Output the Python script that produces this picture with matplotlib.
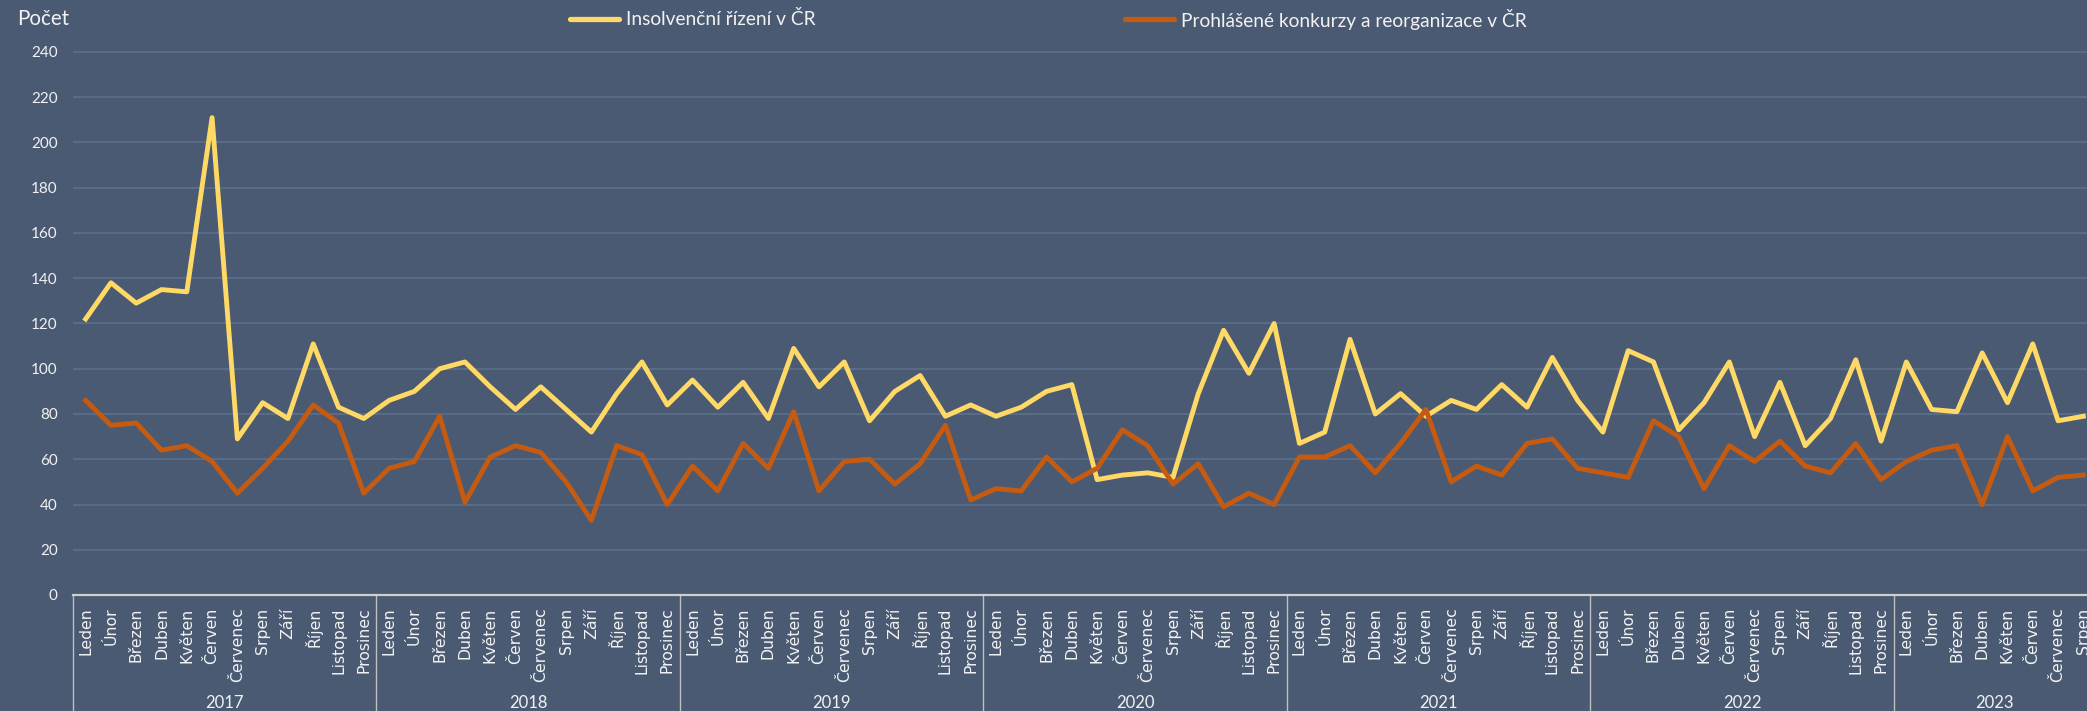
import matplotlib
matplotlib.use("Agg")
import matplotlib.pyplot as plt
from matplotlib.lines import Line2D

# data (monthly counts, Jan 2017 - Aug 2023)
months = ["Leden", "Únor", "Březen", "Duben", "Květen", "Červen", "Červenec",
          "Srpen", "Září", "Říjen", "Listopad", "Prosinec"]
years = ["2017", "2018", "2019", "2020", "2021", "2022", "2023"]
months_per_year = [12, 12, 12, 12, 12, 12, 8]

insolvence = [
    122, 138, 129, 135, 134, 211, 69, 85, 78, 111, 83, 78,   # 2017
    86, 90, 100, 103, 92, 82, 92, 82, 72, 89, 103, 84,       # 2018
    95, 83, 94, 78, 109, 92, 103, 77, 90, 97, 79, 84,        # 2019
    79, 83, 90, 93, 51, 53, 54, 52, 89, 117, 98, 120,        # 2020
    67, 72, 113, 80, 89, 79, 86, 82, 93, 83, 105, 86,        # 2021
    72, 108, 103, 73, 85, 103, 70, 94, 66, 78, 104, 68,      # 2022
    103, 82, 81, 107, 85, 111, 77, 79,                       # 2023
]
konkurzy = [
    86, 75, 76, 64, 66, 59, 45, 56, 68, 84, 76, 45,
    56, 59, 79, 41, 61, 66, 63, 50, 33, 66, 62, 40,
    57, 46, 67, 56, 81, 46, 59, 60, 49, 58, 75, 42,
    47, 46, 61, 50, 56, 73, 66, 49, 58, 39, 45, 40,
    61, 61, 66, 54, 67, 82, 50, 57, 53, 67, 69, 56,
    54, 52, 77, 70, 47, 66, 59, 68, 57, 54, 67, 51,
    59, 64, 66, 40, 70, 46, 52, 53,
]
labels_series = ["Insolvenční řízení v ČR", "Prohlášené konkurzy a reorganizace v ČR"]

BG = "#4A5A72"
GRID = "#5A6D8A"
TXT = "#F2F2F2"
YEL = "#FFD966"
ORA = "#C55A11"
CAL = ["Lato", "DejaVu Sans"]

W, H = 2087, 711
fig = plt.figure(figsize=(W / 100, H / 100), dpi=100)
fig.patch.set_facecolor(BG)

n = len(insolvence)
px_unit = 543 / 240
top_val = 242
ax = fig.add_axes([73 / W, 116 / H, 2023 / W, top_val * px_unit / H])
ax.set_facecolor(BG)

x = list(range(n))
ax.plot(x, insolvence, color=YEL, lw=3.5)
ax.plot(x, konkurzy, color=ORA, lw=3.5)

ax.set_xlim(-0.5, n - 0.5)
ax.set_ylim(0, top_val)
ax.set_yticks(range(0, 241, 20))
ax.grid(axis="y", color=GRID, lw=1.3)
ax.set_axisbelow(True)
for s in ["top", "right", "left"]:
    ax.spines[s].set_visible(False)
ax.spines["bottom"].set_color("#D0D0D0")
ax.spines["bottom"].set_linewidth(1.6)

ax.tick_params(axis="y", length=0, pad=11, colors=TXT, labelsize=11)
for t in ax.get_yticklabels():
    t.set_family(CAL)

# month labels
month_labels = []
for cnt in months_per_year:
    month_labels += months[:cnt]
ax.set_xticks(x)
ax.set_xticklabels(month_labels, rotation=90, fontsize=11.3, color=TXT,
                   family="DejaVu Sans")
ax.tick_params(axis="x", length=0, pad=9)

# year groups
tr = ax.get_xaxis_transform()
start = 0
for yr, cnt in zip(years, months_per_year):
    b = start - 0.5
    ax.plot([b, b], [0, -0.3], transform=tr, color="#BFBFBF", lw=1, clip_on=False)
    ax.text(start + (cnt - 1) / 2, -108 / (top_val * px_unit), yr, transform=tr,
            ha="center", va="center", color=TXT, fontsize=12, family=CAL)
    start += cnt

# title and legend
ly = 1 - 19 / H
fig.text(17 / W, ly, "Počet", ha="left", va="center", color=TXT, fontsize=14.8, family=CAL)
for x0, col, lab in [(570, YEL, labels_series[0]), (1125, ORA, labels_series[1])]:
    fig.add_artist(Line2D([x0 / W, (x0 + 49) / W], [ly, ly], color=col, lw=3.8,
                          solid_capstyle="round", transform=fig.transFigure))
    fig.text((x0 + 56) / W, ly, lab, ha="left", va="center", color=TXT,
             fontsize=13.8, family=CAL)

fig.savefig("out.png", dpi=100, facecolor=BG)
